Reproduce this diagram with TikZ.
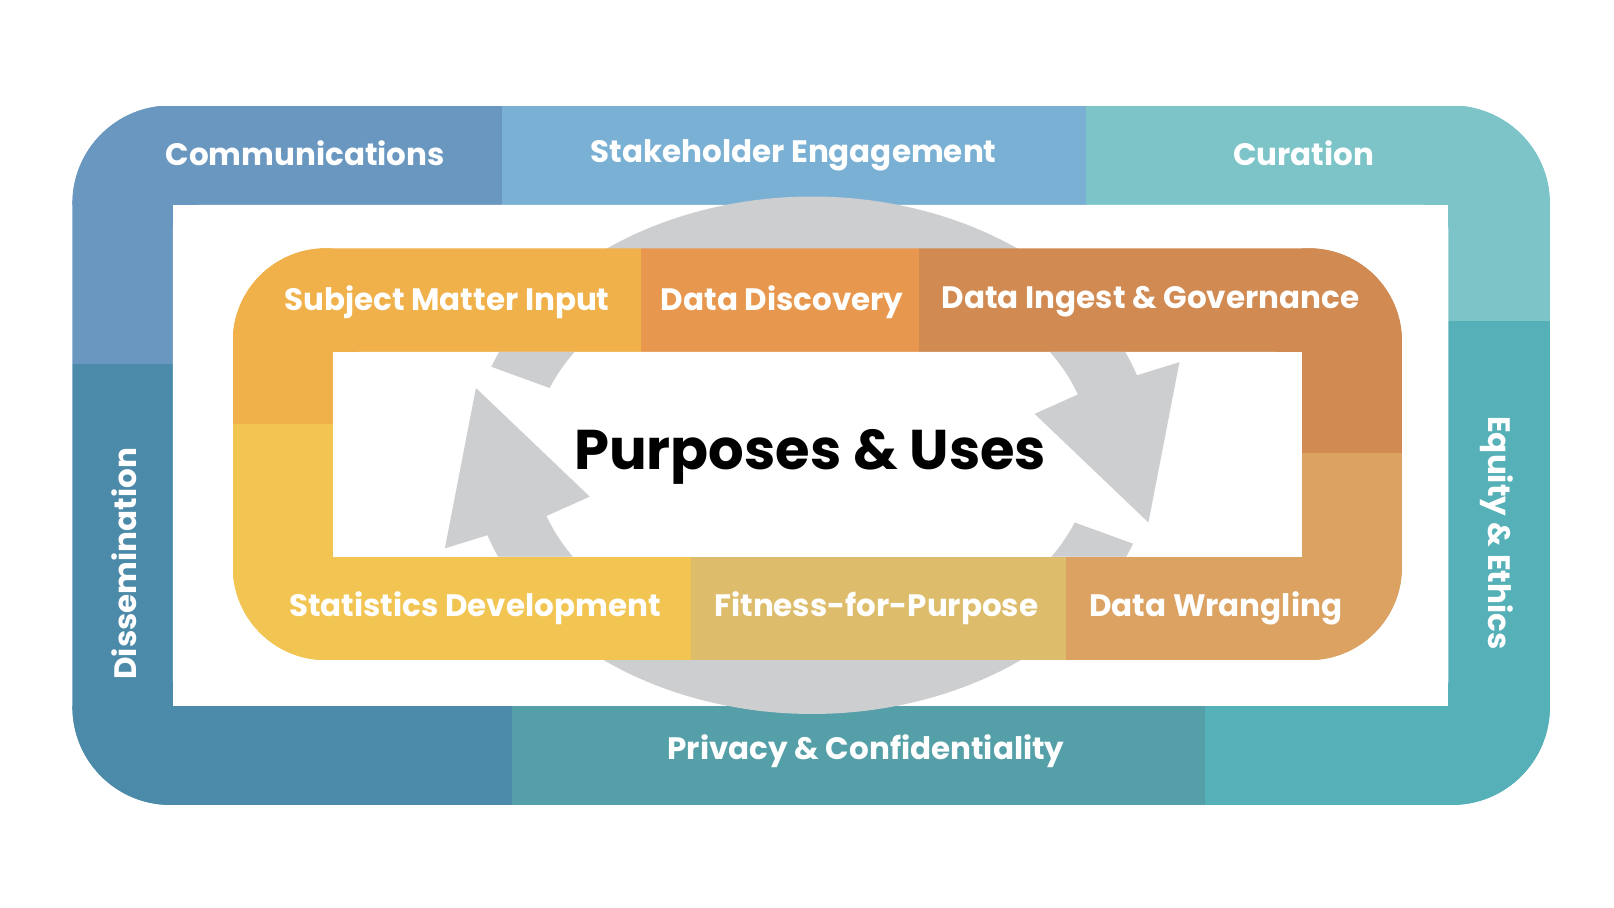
\documentclass[tikz,border=0pt]{standalone}
\usepackage{fontspec}
\setmainfont{Poppins}
\usetikzlibrary{calc}
\definecolor{comm}{HTML}{6A97BF}
\definecolor{stake}{HTML}{7AB0D4}
\definecolor{cura}{HTML}{7CC4C8}
\definecolor{equi}{HTML}{55B0B8}
\definecolor{priv}{HTML}{559FA8}
\definecolor{diss}{HTML}{4B8AA8}
\definecolor{subj}{HTML}{F0B04A}
\definecolor{disc}{HTML}{E8984E}
\definecolor{inge}{HTML}{D08A52}
\definecolor{wran}{HTML}{DBA262}
\definecolor{fitn}{HTML}{DDBD6C}
\definecolor{stat}{HTML}{F2C553}
\definecolor{arrowgrey}{HTML}{CDCED0}
\newcommand{\cyclearrow}{%
  \fill[cycarrow] ($(785,440)+(200:330 and 250)$) arc[start angle=200, end angle=342, x radius=330, y radius=250]
    -- (1140,350) -- (1110,505) -- (1000,400)
    -- ($(785,440)+(342:270 and 190)$) arc[start angle=342, end angle=200, x radius=270, y radius=190] -- cycle;%
}
\newcommand{\cyclearrows}{%
  \cyclearrow
  \begin{scope}[rotate around={180:(785,440)}]\cyclearrow\end{scope}%
}
\begin{document}
\begin{tikzpicture}[
      x=1.035pt, y=-1.035pt,
      label/.style={text=white, font=\bfseries\fontsize{31}{31}\selectfont, inner sep=0pt},
      cycarrow/.style={fill=arrowgrey}]
    \useasboundingbox (0,0) rectangle (1560,877.3);

    % outer frame
    \begin{scope}
      \clip[rounded corners=98pt] (70,102) rectangle (1498,778);
      \fill[comm]  (70,102) rectangle (485,198);
      \fill[comm]  (70,102) rectangle (167,352);
      \fill[stake] (485,102) rectangle (1050,198);
      \fill[cura]  (1050,102) rectangle (1498,198);
      \fill[cura]  (1400,102) rectangle (1498,310);
      \fill[equi]  (1400,310) rectangle (1498,778);
      \fill[equi]  (1165,682) rectangle (1498,778);
      \fill[priv]  (495,682) rectangle (1165,778);
      \fill[diss]  (70,352) rectangle (167,778);
      \fill[diss]  (70,682) rectangle (495,778);
    \end{scope}
    \fill[white, rounded corners=26pt] (167,198) rectangle (1400,682);

    \cyclearrows

    % inner ring
    \begin{scope}
      \clip[rounded corners=93pt] (225,240) rectangle (1355,638);
      \fill[subj] (225,240) rectangle (620,340);
      \fill[subj] (225,240) rectangle (322,410);
      \fill[disc] (620,240) rectangle (888,340);
      \fill[inge] (888,240) rectangle (1355,340);
      \fill[inge] (1258,240) rectangle (1355,438);
      \fill[wran] (1258,438) rectangle (1355,638);
      \fill[wran] (1030,538) rectangle (1355,638);
      \fill[fitn] (668,538) rectangle (1030,638);
      \fill[stat] (225,538) rectangle (668,638);
      \fill[stat] (225,410) rectangle (322,638);
    \end{scope}
    \fill[white, rounded corners=28pt] (322,340) rectangle (1258,538);
    \begin{scope}
      \clip[rounded corners=28pt] (322,340) rectangle (1258,538);
      \cyclearrows
    \end{scope}

    \node[label] (comm)  at (295,148) {Communications};
    \node[label] (stake) at (767,150) {Stakeholder Engagement};
    \node[label] (cura)  at (1260,148) {Curation};
    \node[label, rotate=90]  (diss) at (120,545) {Dissemination};
    \node[label, rotate=-90] (equi) at (1447,515) {Equity \& Ethics};
    \node[label] (priv)  at (837,726) {Privacy \& Confidentiality};

    \node[label] (subj)  at (432,292) {Subject Matter Input};
    \node[label] (disc)  at (756,292) {Data Discovery};
    \node[label] (inge)  at (1112,292) {Data Ingest \& Governance};
    \node[label] (stat)  at (459,588) {Statistics Development};
    \node[label] (fitn)  at (847,588) {Fitness-for-Purpose};
    \node[label] (wran)  at (1175,588) {Data Wrangling};

    \node[font=\bfseries\fontsize{56}{56}\selectfont, inner sep=0pt] (uses) at (783,442) {Purposes \& Uses};
  \end{tikzpicture}
\end{document}
